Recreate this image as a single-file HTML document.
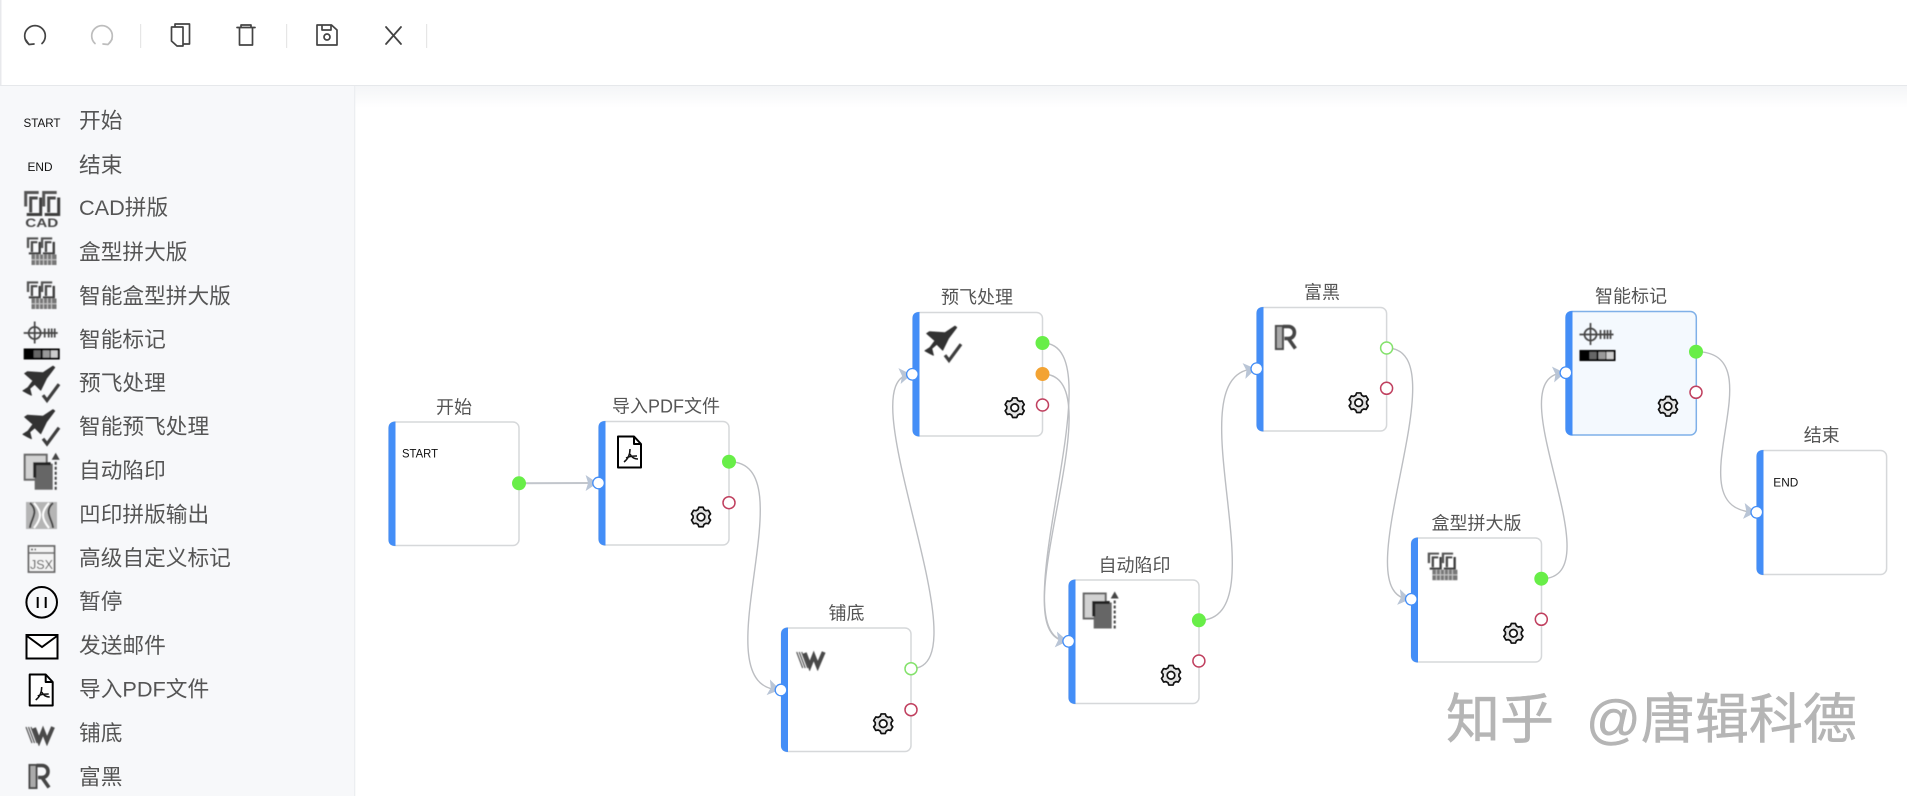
<!DOCTYPE html>
<html><head><meta charset="utf-8"><style>
html,body{margin:0;padding:0;background:#fff;width:1907px;height:796px;overflow:hidden}
svg{display:block}
text{font-family:"Liberation Sans","Noto Sans CJK SC",sans-serif}
.s{font-size:21.7px;fill:#555}
.t{font-size:18px;fill:#555;text-anchor:middle}
.n{fill:#fff;stroke:#d6d8da;stroke-width:1.5}
.b{fill:#448ef7}
.e{fill:none;stroke:#bcbec2;stroke-width:1.4}
.tb{fill:none;stroke:#444;stroke-width:1.7;stroke-linecap:round;stroke-linejoin:round}
.pi{fill:#fff;stroke:#448ef7;stroke-width:1.3}
.pr{fill:#fff;stroke:#c0405f;stroke-width:1.5}
.pg{fill:#fff;stroke:#84e26c;stroke-width:1.5}
.pf{fill:#68ee48}
.po{fill:#f3a333}
.a{fill:#b9c5d6}
</style></head><body>
<svg width="1907" height="796" viewBox="0 0 1907 796" xmlns="http://www.w3.org/2000/svg">
<defs>
<linearGradient id="sh" x1="0" y1="0" x2="0" y2="1"><stop offset="0" stop-color="#f4f5f7"/><stop offset="1" stop-color="#fff"/></linearGradient>
<filter id="bl" x="-20%" y="-20%" width="140%" height="140%"><feGaussianBlur stdDeviation="0.45"/></filter>
<g id="gear"><path d="M-3,-7.4L-2.08,-9.78L2.08,-9.78L3,-7.4L4.93,-6.3L7.43,-6.69L9.51,-3.09L7.92,-1.11L7.92,1.11L9.51,3.09L7.43,6.69L4.93,6.3L3,7.42L2.08,9.78L-2.08,9.78L-3,7.42L-4.93,6.3L-7.43,6.69L-9.51,3.09L-7.92,1.11L-7.92,-1.11L-9.51,-3.09L-7.43,-6.69L-4.93,-6.3Z" fill="#e4e4e4" stroke="#111" stroke-width="1.7" stroke-linejoin="round"/><circle r="3.8" fill="#fff" stroke="#111" stroke-width="1.7"/></g>
<g id="pdf"><path d="M-12,-15.5H4L11,-8V15.5H-12Z M4,-15.5V-8H11" fill="#fff" stroke="#000" stroke-width="2" stroke-linejoin="round"/><path d="M0,-3C0,3 -2,7 -6,10M0,2C2,6 5,7 8,7M-4,6C0,4 3,4 7,4" fill="none" stroke="#111" stroke-width="1.5"/></g>
<g id="w" filter="url(#bl)" fill="none" stroke="#4a4a4a"><path d="M-14,-8L-8,8M-11.500,-8L-5.500,8M-9,-8L-3,8" stroke-width="1.1"/><path d="M-6,-7L-1,6L3,-4L7,6L13,-8" stroke-width="4"/></g>
<g id="plane" filter="url(#bl)"><path d="M11.300,-17.300L13,-16L4.700,-5L-1,6.700L-7,0.700L-12,5L-10.300,11.700L-13.700,10L-18.700,7.300L-13.700,4L-8.700,-2.700L-17,-10L-14.300,-11.700L1.300,-10.700Z" fill="#333" stroke="#333" stroke-width="1" stroke-linejoin="round"/><path d="M1.300,11.700L5.300,17L17.300,0.700" fill="none" stroke="#3c3c3c" stroke-width="3.200"/></g>
<g id="trap" filter="url(#bl)"><rect x="-17" y="-17" width="22" height="25" fill="#d2d2d2" stroke="#666" stroke-width="2"/><rect x="-7" y="-8" width="18" height="26" fill="#666"/><path d="M-7,6V-8H9" fill="none" stroke="#222" stroke-width="3"/><path d="M14,-10V18" stroke="#444" stroke-width="2" stroke-dasharray="3 2"/><path d="M14,-19L18,-12H10Z" fill="#444"/></g>
<g id="rr" filter="url(#bl)"><path d="M-9.500,-11.500V11.500H-2.500V-11.500Z" fill="#aaa" stroke="#4a4a4a" stroke-width="2"/><path d="M-2.500,-11H3C11,-11 11,1 3,1H-1M3,1L10,11" fill="none" stroke="#444" stroke-width="3.600"/></g>
<g id="sp" fill="none" stroke="#4a4a4a" stroke-width="3"><path d="M-16,-3V-17H-3" stroke="#555"/><path d="M-11,3V-11.500H-4"/><path d="M-1,-12V5H-15" stroke="#3c3c3c"/><path d="M2,-3V-17H15" stroke="#555"/><path d="M7,3V-11.500H14"/><path d="M17,-12V5H3" stroke="#3c3c3c"/></g>
<g id="box" filter="url(#bl)"><use href="#sp" transform="translate(-1,-2.500) scale(.78,.68)"/><rect x="-10" y="2" width="25" height="10.500" fill="#777"/><path d="M-10,7.200H15M-6,2V12.500M-2,2V12.500M2,2V12.500M6,2V12.500M10,2V12.500" stroke="#c8c8c8" stroke-width="1"/></g>
<g id="cad" filter="url(#bl)"><use href="#sp"/><text x="0" y="17.500" text-anchor="middle" font-size="11.500" font-weight="bold" fill="#444" textLength="33" lengthAdjust="spacingAndGlyphs">CAD</text></g>
<g id="mark" filter="url(#bl)"><circle cx="-7" cy="-7.500" r="6" fill="none" stroke="#444" stroke-width="1.700"/><path d="M-18,-7.500H16M-7,-19V3M3,-12V-3M7,-12V-3M10,-12V-3M13,-12V-3" stroke="#444" stroke-width="1.700"/><rect x="-18" y="8" width="36" height="11" fill="#000"/><rect x="-8" y="10" width="7" height="7" fill="#666"/><rect x="1" y="10" width="7" height="7" fill="#999"/><rect x="9" y="10" width="7" height="7" fill="#ccc"/></g>
</defs>

<!-- toolbar -->
<rect x="0" y="0" width="1907" height="86" fill="#fff"/>
<rect x="0" y="0" width="1.5" height="86" fill="#e8e9ec"/>
<rect x="0" y="85" width="1907" height="1.4" fill="#e6e8eb"/>
<rect x="354" y="86" width="1553" height="22" fill="url(#sh)"/>
<path class="tb" d="M28,43.500A10.300,10.300 0 1 1 42,43.500M25.500,39.500L29,44.500L34,44"/>
<path class="tb" style="stroke:#bdbdbd" d="M95,43.500A10.300,10.300 0 1 1 109,43.500M112,39.500L108,44.500L103,44"/>
<rect x="140" y="24" width="1.200" height="24" fill="#e6e6e6"/>
<path class="tb" d="M172,27H183V46H177L171.500,41V27M175,27V24H189.500V44H183"/>
<path class="tb" d="M237,27.500H255M241,27V25H251V27M239.500,28V45H252.500V28"/>
<rect x="286" y="24" width="1.200" height="24" fill="#e6e6e6"/>
<path class="tb" d="M317,25H331.500L337,30V45H317ZM322,25V30H331V25"/><circle class="tb" cx="327" cy="37" r="3"/>
<path class="tb" style="stroke-width:1.800" d="M386,27L401,44M401,27L386,44"/>
<rect x="426" y="24" width="1.200" height="24" fill="#e6e6e6"/>

<!-- sidebar -->
<rect x="0" y="86" width="354" height="710" fill="#f7f8fa"/>
<rect x="354" y="86" width="1.300" height="710" fill="#eceef1"/>
<text x="23.500" y="127" font-size="12" fill="#111" textLength="37" lengthAdjust="spacingAndGlyphs">START</text>
<text x="27.500" y="171" font-size="12" fill="#111" textLength="25" lengthAdjust="spacingAndGlyphs">END</text>
<use href="#cad" x="41.700" y="209.500"/>
<use href="#box" x="41.500" y="252.500"/>
<use href="#box" x="41.500" y="296.500"/>
<use href="#mark" x="41.700" y="340.500"/>
<use href="#plane" x="41.700" y="383.500"/>
<use href="#plane" x="41.700" y="427"/>
<use href="#trap" x="41.700" y="471.700"/>
<g filter="url(#bl)"><rect x="26" y="502" width="31" height="27" fill="#b5b5b5"/><path d="M30,503C40,512 30,520 30,528M53,503C43,512 53,520 53,528" fill="none" stroke="#444" stroke-width="2"/><path d="M34,503C42,512 42,518 34,528M49,503C41,512 41,518 49,528" fill="none" stroke="#fff" stroke-width="2"/></g>
<g filter="url(#bl)"><rect x="28.500" y="546" width="26" height="26" fill="#f4f4f4" stroke="#666" stroke-width="1.800"/><path d="M28.500,553H54.500" stroke="#666" stroke-width="1.500"/><path d="M31,549.500H36" stroke="#666" stroke-width="2" stroke-dasharray="2 1.500"/><text x="41.500" y="569" font-size="12.500" text-anchor="middle" fill="#555" font-family="Liberation Mono" textLength="23" lengthAdjust="spacingAndGlyphs">JSX</text></g>
<circle cx="41.700" cy="602.300" r="15.300" fill="none" stroke="#000" stroke-width="2"/>
<path d="M37.700,597V608M45.700,597V608" stroke="#000" stroke-width="2"/>
<rect x="26.500" y="635" width="31" height="23.500" fill="#fff" stroke="#000" stroke-width="2"/>
<path d="M27,636L42,647L57,636" fill="none" stroke="#000" stroke-width="2"/>
<use href="#pdf" x="41.700" y="690"/>
<use href="#w" x="40" y="735"/>
<use href="#rr" x="39" y="776.500"/>

<text class="s" x="79" y="128">开始</text>
<text class="s" x="79" y="172.500">结束</text>
<text class="s" x="79" y="215">CAD拼版</text>
<text class="s" x="79" y="259.700">盒型拼大版</text>
<text class="s" x="79" y="303.700">智能盒型拼大版</text>
<text class="s" x="79" y="347">智能标记</text>
<text class="s" x="79" y="390.700">预飞处理</text>
<text class="s" x="79" y="434">智能预飞处理</text>
<text class="s" x="79" y="478">自动陷印</text>
<text class="s" x="79" y="522">凹印拼版输出</text>
<text class="s" x="79" y="565.700">高级自定义标记</text>
<text class="s" x="79" y="609">暂停</text>
<text class="s" x="79" y="653">发送邮件</text>
<text class="s" x="79" y="696.700">导入PDF文件</text>
<text class="s" x="79" y="740.700">铺底</text>
<text class="s" x="79" y="784.700">富黑</text>

<!-- node bodies -->
<rect class="n" x="389" y="422" width="130" height="123.500" rx="6"/>
<rect class="n" x="599" y="421.500" width="130" height="123.500" rx="6"/>
<rect class="n" x="781.500" y="628" width="129.500" height="123.500" rx="6"/>
<rect class="n" x="913" y="312.500" width="129.500" height="123.500" rx="6"/>
<rect class="n" x="1069" y="580" width="130" height="123.500" rx="6"/>
<rect class="n" x="1257" y="307.500" width="129.600" height="123.500" rx="6"/>
<rect class="n" x="1411.500" y="538" width="130" height="124" rx="6"/>
<rect x="1566" y="311.500" width="130.300" height="123.500" rx="6" fill="#f4f9fe" stroke="#7fb0e8" stroke-width="1.500"/>
<rect class="n" x="1757" y="450.500" width="129.600" height="124" rx="6"/>

<!-- blue bars -->
<path class="b" d="M395.500,421.500V546C391,546 388.500,544 388.500,540V428C388.500,424 391,421.500 395.500,421.500Z"/>
<path class="b" d="M605.500,421V545.500C601,545.500 598.500,543 598.500,539V427C598.500,423 601,421 605.500,421Z"/>
<path class="b" d="M788,627.500V752C783.500,752 781,749.500 781,746V634C781,630 783.500,627.500 788,627.500Z"/>
<path class="b" d="M919.500,312V436.500C915,436.500 912.500,434 912.500,430V318C912.500,314 915,312 919.500,312Z"/>
<path class="b" d="M1075.500,579.500V704C1071,704 1068.500,701.500 1068.500,698V586C1068.500,582 1071,579.500 1075.500,579.500Z"/>
<path class="b" d="M1263.500,307V431.500C1259,431.500 1256.500,429 1256.500,425V313C1256.500,309 1259,307 1263.500,307Z"/>
<path class="b" d="M1418,537.500V662.500C1413.500,662.500 1411,660 1411,656V544C1411,540 1413.500,537.500 1418,537.500Z"/>
<path class="b" d="M1572.500,311V435.500C1568,435.500 1565.500,433 1565.500,429V317C1565.500,313 1568,311 1572.500,311Z"/>
<path class="b" d="M1763.500,450V575C1759,575 1756.500,572.500 1756.500,568.500V456C1756.500,452 1759,450 1763.500,450Z"/>

<!-- connectors -->
<path d="M519,483.300L590,483" fill="none" stroke="#c2c6cc" stroke-width="2"/>
<path class="e" d="M729,461.700C810.800,461.700 696.200,690 781,690"/>
<path class="e" d="M911,668.700C987.600,668.700 842.400,374.300 912.400,374.300"/>
<path class="e" d="M1042.500,343C1120.500,343 994.700,641.300 1068.700,641.300"/>
<path class="e" d="M1042.500,374C1120.500,374 994.700,641.300 1068.700,641.300"/>
<path class="e" d="M1198.900,620.300C1283.800,620.300 1169.200,368.700 1256.800,368.700"/>
<path class="e" d="M1386.600,348C1463.600,348 1338.300,599.300 1411.300,599.300"/>
<path class="e" d="M1541.300,578.700C1618,578.700 1491.500,372.700 1565.900,372.700"/>
<path class="e" d="M1696,351.700C1780.300,351.700 1668.800,512.300 1756.800,512.300"/>

<!-- arrowheads -->
<polygon class="a" transform="translate(598.600,483)" points="-13,-8 -1,0 -13,8 -10.500,0"/>
<polygon class="a" transform="translate(781,690) rotate(12)" points="-13,-8 -1,0 -13,8 -10.500,0"/>
<polygon class="a" transform="translate(912.400,374.300) rotate(-8)" points="-13,-8 -1,0 -13,8 -10.500,0"/>
<polygon class="a" transform="translate(1068.700,641.300) rotate(8)" points="-13,-8 -1,0 -13,8 -10.500,0"/>
<polygon class="a" transform="translate(1256.800,368.700) rotate(-10)" points="-13,-8 -1,0 -13,8 -10.500,0"/>
<polygon class="a" transform="translate(1411.300,599.300) rotate(10)" points="-13,-8 -1,0 -13,8 -10.500,0"/>
<polygon class="a" transform="translate(1565.900,372.700) rotate(-8)" points="-13,-8 -1,0 -13,8 -10.500,0"/>
<polygon class="a" transform="translate(1756.800,512.300) rotate(6)" points="-13,-8 -1,0 -13,8 -10.500,0"/>

<!-- ports -->
<circle class="pf" cx="519" cy="483.300" r="7"/>
<circle class="pi" cx="598.600" cy="483" r="5.800"/><circle class="pf" cx="729" cy="461.700" r="7"/><circle class="pr" cx="729" cy="502.700" r="6"/>
<circle class="pi" cx="781" cy="690" r="5.800"/><circle class="pg" cx="911" cy="668.700" r="6"/><circle class="pr" cx="911" cy="709.700" r="6"/>
<circle class="pi" cx="912.400" cy="374.300" r="5.800"/><circle class="pf" cx="1042.500" cy="343" r="7"/><circle class="po" cx="1042.500" cy="374" r="7"/><circle class="pr" cx="1042.500" cy="405" r="6"/>
<circle class="pi" cx="1068.700" cy="641.300" r="5.800"/><circle class="pf" cx="1198.900" cy="620.300" r="7"/><circle class="pr" cx="1198.900" cy="661" r="6"/>
<circle class="pi" cx="1256.800" cy="368.700" r="5.800"/><circle class="pg" cx="1386.600" cy="348" r="6"/><circle class="pr" cx="1386.600" cy="388.300" r="6"/>
<circle class="pi" cx="1411.300" cy="599.300" r="5.800"/><circle class="pf" cx="1541.300" cy="578.700" r="7"/><circle class="pr" cx="1541.300" cy="619.300" r="6"/>
<circle class="pi" cx="1565.900" cy="372.700" r="5.800"/><circle class="pf" cx="1696" cy="351.700" r="7"/><circle class="pr" cx="1696" cy="392.300" r="6"/>
<circle class="pi" cx="1756.800" cy="512.300" r="5.800"/>

<!-- gears -->
<use href="#gear" x="701" y="517"/>
<use href="#gear" x="883.200" y="723.700"/>
<use href="#gear" x="1014.700" y="407.700"/>
<use href="#gear" x="1171" y="675.300"/>
<use href="#gear" x="1358.700" y="402.700"/>
<use href="#gear" x="1513.400" y="633.300"/>
<use href="#gear" x="1668" y="406.300"/>

<!-- node icons -->
<text x="402" y="457.500" font-size="11.500" fill="#111" textLength="36" lengthAdjust="spacingAndGlyphs">START</text>
<text x="1773.300" y="486.500" font-size="11.800" fill="#111" textLength="25" lengthAdjust="spacingAndGlyphs">END</text>
<use href="#pdf" x="630" y="452"/>
<use href="#w" x="810.700" y="660"/>
<use href="#plane" x="943.700" y="343.500"/>
<use href="#trap" x="1100.700" y="610.500"/>
<use href="#rr" x="1285.400" y="337.500"/>
<use href="#box" x="1442.400" y="567.700"/>
<use href="#mark" x="1597.500" y="342"/>

<!-- node titles -->
<text class="t" x="454" y="413.500">开始</text>
<text class="t" x="666" y="412.500">导入PDF文件</text>
<text class="t" x="846.500" y="619.500">铺底</text>
<text class="t" x="977" y="303.500">预飞处理</text>
<text class="t" x="1134.500" y="571.500">自动陷印</text>
<text class="t" x="1322" y="298.500">富黑</text>
<text class="t" x="1476.500" y="529.500">盒型拼大版</text>
<text class="t" x="1631" y="302.500">智能标记</text>
<text class="t" x="1821.700" y="441.500">结束</text>

<!-- watermark -->
<text x="1446" y="738" font-size="54" fill="#b5b5b5" stroke="#b5b5b5" stroke-width="0.500">知乎</text>
<text x="1586" y="738" font-size="54" fill="#b5b5b5" stroke="#b5b5b5" stroke-width="0.500">@唐辑科德</text>
</svg>
</body></html>
